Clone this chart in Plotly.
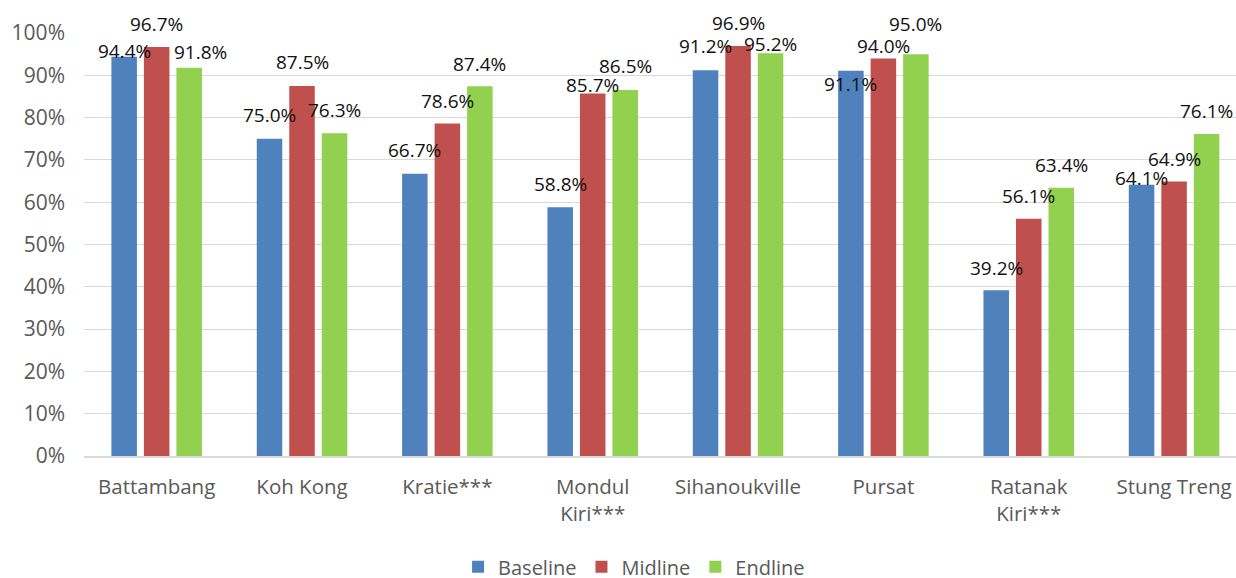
import plotly.graph_objects as go

categories = ["Battambang", "Koh Kong", "Kratie***", "Mondul<br>Kiri***", "Sihanoukville",
              "Pursat", "Ratanak<br>Kiri***", "Stung Treng"]
baseline = [94.4, 75.0, 66.7, 58.8, 91.2, 91.1, 39.2, 64.1]
midline = [96.7, 87.5, 78.6, 85.7, 96.9, 94.0, 56.1, 64.9]
endline = [91.8, 76.3, 87.4, 86.5, 95.2, 95.0, 63.4, 76.1]

series_names = ["Baseline", "Midline", "Endline"]
series_values = [baseline, midline, endline]
colors = ["#4F81BD", "#C0504D", "#92D050"]

# label placement tweaks (pixels): vertical offset of label centre above bar top, horizontal shift
label_dy = [
    [6, 24, 24, 23, 24, -13, 22.5, 6.6],
    [23, 23.6, 23, 8, 23, 12.6, 23, 22.7],
    [15.5, 23, 22.5, 24, 9.5, 30, 23, 23.3],
]
label_dx = [
    [0] * 8,
    [0] * 8,
    [11, 0, 0, 0, 0, 0, 0, 0],
]

BARGAP = 0.329
BARGROUPGAP = 0.215
FONT = "Open Sans"
GRAY = "#595959"

xs = list(range(len(categories)))
fig = go.Figure()
for name, vals, col in zip(series_names, series_values, colors):
    fig.add_trace(go.Bar(
        name=name, x=xs, y=vals, marker=dict(color=col, line=dict(width=0)),
        hoverinfo="y",
    ))

slot = (1 - BARGAP) / 3
annotations = []
for k, vals in enumerate(series_values):
    for i, v in enumerate(vals):
        annotations.append(dict(
            x=i + (k - 1) * slot, y=v, xref="x", yref="y",
            text=f"{v:.1f}%", showarrow=False,
            xanchor="center", yanchor="middle",
            yshift=label_dy[k][i], xshift=label_dx[k][i],
            font=dict(family=FONT, size=19, color="#111111"),
        ))

fig.update_layout(
    width=1236, height=578,
    margin=dict(l=84, r=0, t=33, b=122, autoexpand=False),
    paper_bgcolor="white", plot_bgcolor="white",
    barmode="group", bargap=BARGAP, bargroupgap=BARGROUPGAP,
    annotations=annotations,
    showlegend=True,
    legend=dict(orientation="h", xref="container", yref="paper",
                x=0.513, y=-0.216, xanchor="center", yanchor="top",
                font=dict(family=FONT, size=20, color=GRAY),
                itemsizing="constant", traceorder="normal"),
    font=dict(family=FONT, color=GRAY),
)
fig.update_xaxes(
    tickmode="array", tickvals=xs, ticktext=categories,
    range=[-0.5, 7.426], showgrid=False, zeroline=False,
    showline=True, linecolor="#D9D9D9", linewidth=1.5,
    tickfont=dict(family=FONT, size=20.5, color=GRAY),
    ticks="", ticklabelstandoff=12,
)
fig.update_yaxes(
    range=[0, 100], dtick=10, ticksuffix="%",
    showgrid=True, gridcolor="#D9D9D9", gridwidth=1.3,
    zeroline=False, showline=False,
    tickfont=dict(family=FONT, size=21, color=GRAY),
    ticks="", ticklabelstandoff=18,
)

fig.write_html(
    "out.html",
    config={"displayModeBar": False},
    post_script=(
        "document.body.style.margin='0';"
        "document.body.style.overflow='hidden';"
        "document.documentElement.style.overflow='hidden';"
    ),
)
